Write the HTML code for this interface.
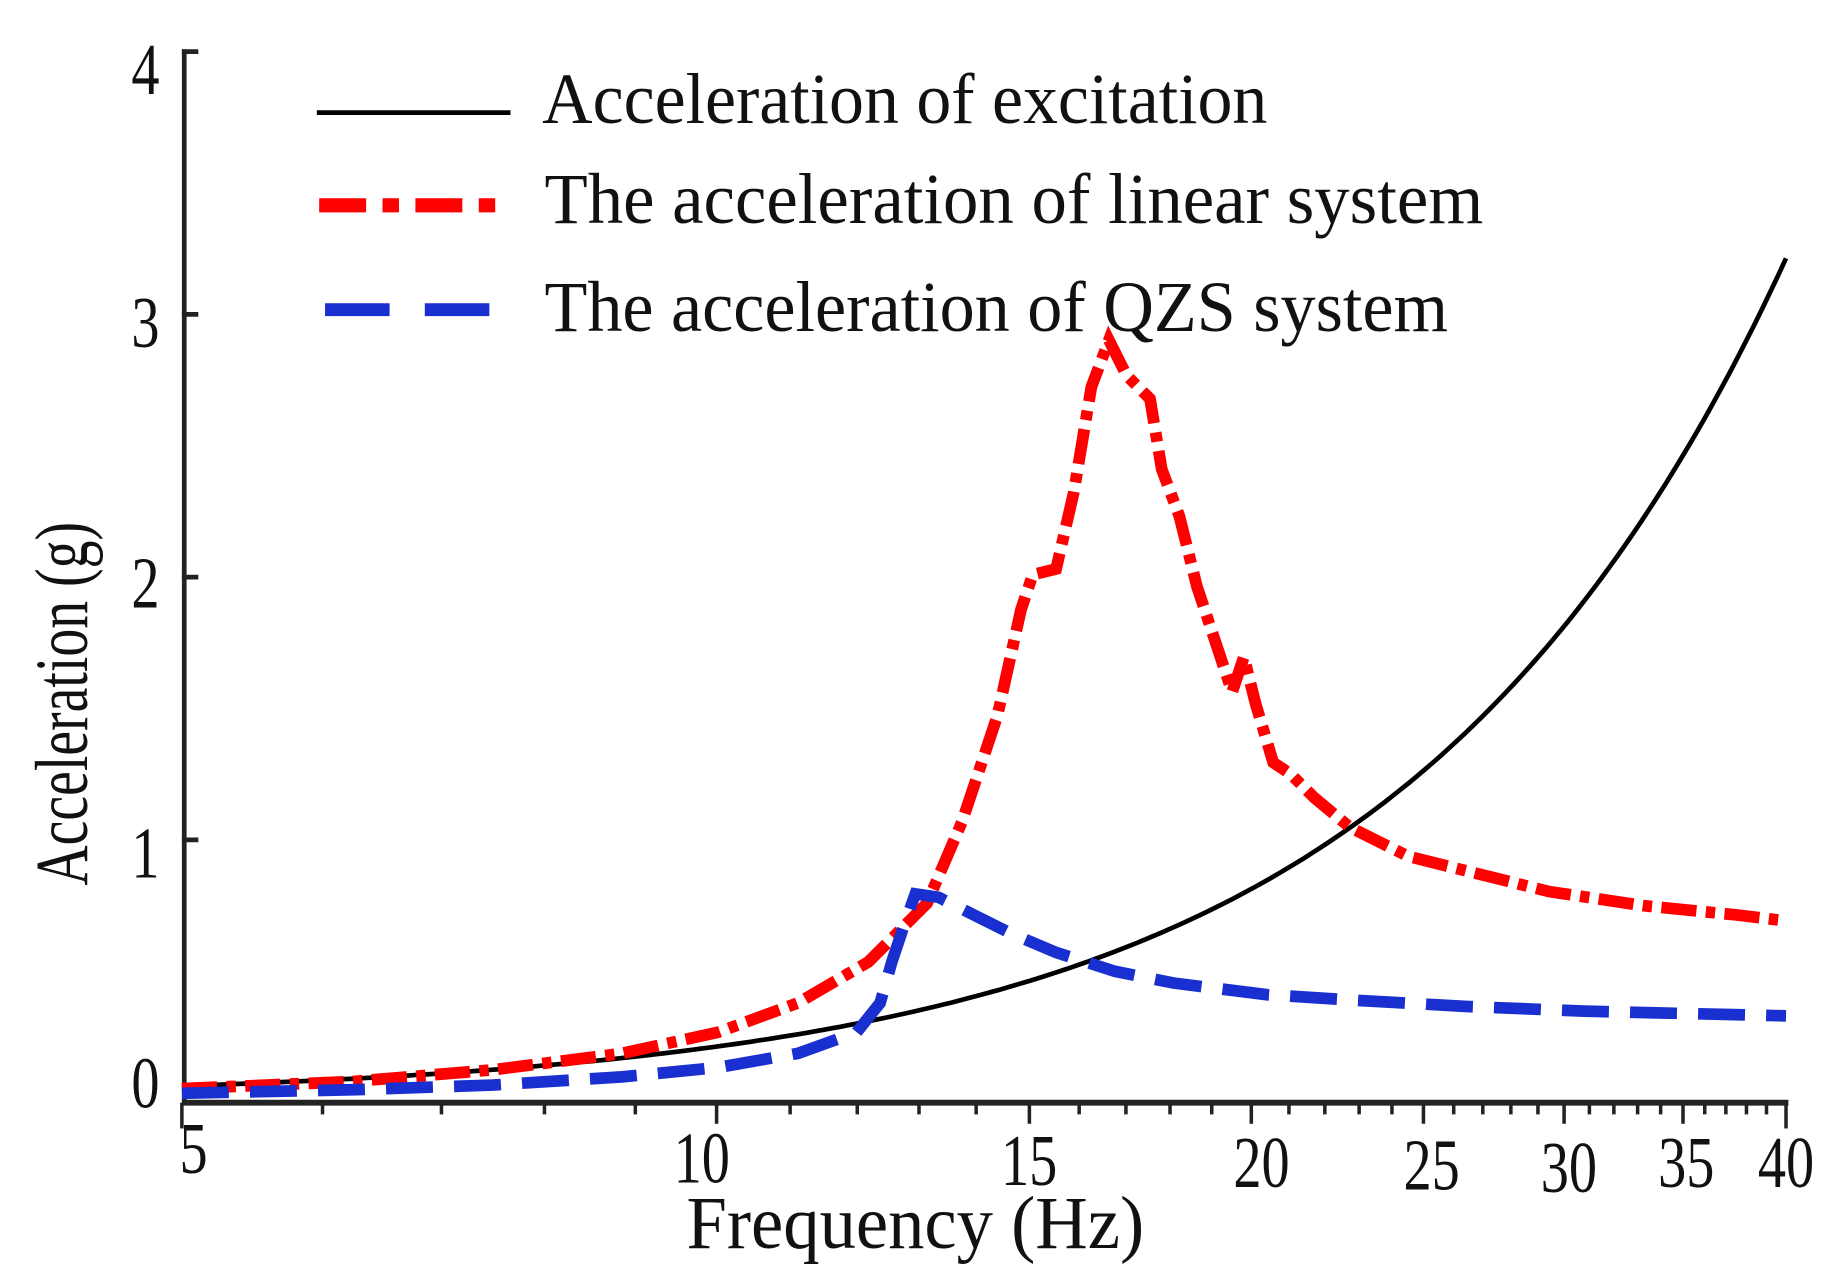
<!DOCTYPE html>
<html><head><meta charset="utf-8"><style>
html,body{margin:0;padding:0;background:#fff;}
svg{display:block;}
text{font-family:"Liberation Serif",serif;fill:#111;}
</style></head><body>
<svg width="1840" height="1288" viewBox="0 0 1568 1098" preserveAspectRatio="none">
<line x1="157" y1="42" x2="157" y2="942" stroke="#222" stroke-width="4"/>
<line x1="155" y1="940" x2="1524" y2="940" stroke="#222" stroke-width="5"/>
<g stroke="#222" stroke-width="4">
<line x1="155" y1="44" x2="169" y2="44"/>
<line x1="155" y1="268" x2="169" y2="268"/>
<line x1="155" y1="492" x2="169" y2="492"/>
<line x1="155" y1="716" x2="169" y2="716"/>
</g>
<g stroke="#222" stroke-width="3" id="xt"></g>
<g font-size="48" text-anchor="end">
<text transform="translate(136,80) scale(1,1.3)">4</text>
<text transform="translate(136,296) scale(1,1.3)">3</text>
<text transform="translate(136,518) scale(1,1.3)">2</text>
<text transform="translate(136,748) scale(1,1.3)">1</text>
<text transform="translate(136,944) scale(1,1.3)">0</text>
</g>
<g font-size="48" text-anchor="middle">
<text transform="translate(165,1000) scale(1,1.3)">5</text>
<text transform="translate(598,1008) scale(1,1.3)">10</text>
<text transform="translate(877,1010) scale(1,1.3)">15</text>
<text transform="translate(1075,1012) scale(1,1.3)">20</text>
<text transform="translate(1220,1014) scale(1,1.3)">25</text>
<text transform="translate(1337,1016) scale(1,1.3)">30</text>
<text transform="translate(1437,1012) scale(1,1.3)">35</text>
<text transform="translate(1522,1012) scale(1,1.3)">40</text>
</g>
<text transform="translate(780,1064) scale(1,1.15)" font-size="56" text-anchor="middle" textLength="390" lengthAdjust="spacingAndGlyphs">Frequency  (Hz)</text>
<text transform="translate(74,600) rotate(-90) scale(1,1.15)" font-size="56" text-anchor="middle" textLength="310" lengthAdjust="spacingAndGlyphs">Acceleration  (g)</text>
<line x1="270" y1="96" x2="435" y2="96" stroke="#000" stroke-width="4"/>
<line x1="272" y1="175" x2="432" y2="175" stroke="#f00" stroke-width="12" stroke-dasharray="40,14,14,14"/>
<line x1="277" y1="264" x2="420" y2="264" stroke="#1a2fd0" stroke-width="11" stroke-dasharray="55,30"/>
<g font-size="56">
<text transform="translate(462,105) scale(1,1.1)" textLength="618" lengthAdjust="spacingAndGlyphs">Acceleration of excitation</text>
<text transform="translate(464,190) scale(1,1.1)" textLength="800" lengthAdjust="spacingAndGlyphs">The acceleration of linear system</text>
<text transform="translate(464,282) scale(1,1.1)" textLength="770" lengthAdjust="spacingAndGlyphs">The acceleration of QZS system</text>
</g>
<path id="blk" fill="none" stroke="#000" stroke-width="4"/>
<path fill="none" stroke="#f00" stroke-width="10" stroke-dasharray="30,8,8,8" d="M155,928 L300,922 L420,912 L530,898 L612,880 L680,855 L740,820 L790,770 L820,700 L850,610 L870,520 L880,490 L900,485 L915,420 L930,330 L945,290 L960,320 L980,340 L990,400 L1005,440 L1020,500 L1040,560 L1050,590 L1060,560 L1070,600 L1085,650 L1100,660 L1120,680 L1150,705 L1200,730 L1260,745 L1320,760 L1400,772 L1480,780 L1522,785"/>
<path fill="none" stroke="#1a2fd0" stroke-width="10" stroke-dasharray="40,18" d="M155,932 L300,929 L420,925 L530,918 L612,910 L680,898 L730,880 L750,855 L760,820 L770,790 L780,762 L800,765 L830,780 L860,795 L900,812 L950,828 L1000,838 L1080,848 L1160,853 L1250,858 L1350,862 L1522,866"/>
</svg>
<script>
(function(){
var g=document.getElementById('xt'),ns='http://www.w3.org/2000/svg';
var x0=155,x1=1522,L=Math.log(8);
function X(f){return x0+(x1-x0)*Math.log(f/5)/L;}
for(var f=5;f<=40;f++){
 var x=X(f),major=(f%5==0);
 var l=document.createElementNS(ns,'line');
 l.setAttribute('x1',x);l.setAttribute('x2',x);
 l.setAttribute('y1',940);l.setAttribute('y2',major?(f==5||f==40?962:958):950);
 g.appendChild(l);
}
var d='';
for(var i=0;i<=200;i++){var f=5*Math.pow(8,i/200);var y=937-224*0.002*f*f;d+=(i?'L':'M')+X(f).toFixed(1)+','+y.toFixed(1);}
document.getElementById('blk').setAttribute('d',d);
})();
</script>
</body></html>
